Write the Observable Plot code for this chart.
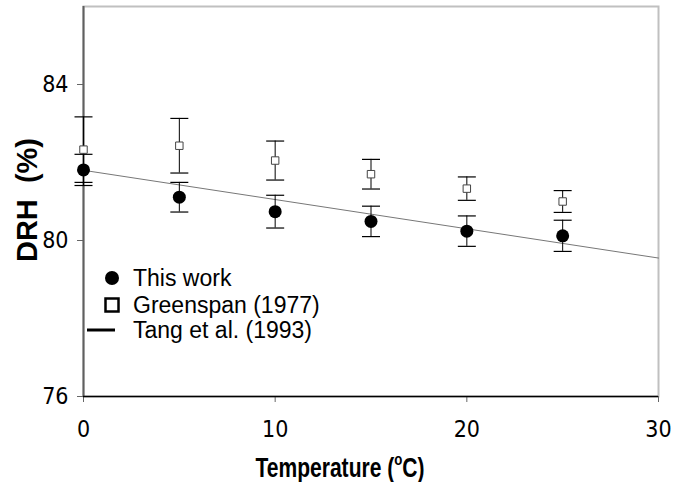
<!DOCTYPE html>
<html>
<head>
<meta charset="utf-8">
<script src="https://cdn.jsdelivr.net/npm/d3@7"></script>
<script src="https://cdn.jsdelivr.net/npm/@observablehq/plot@0.6"></script>
<style>
  html, body { margin: 0; padding: 0; background: white; overflow: hidden; }
  #chart { position: relative; width: 673px; height: 482px; }
</style>
</head>
<body>
<div id="chart"></div>
<script>
// ---- data ----
const temperatures = [0, 5, 10, 15, 20, 25];
const thisWorkDRH = [81.81, 81.11, 80.74, 80.49, 80.24, 80.12];
const thisWorkErr = [0.40, 0.38, 0.42, 0.39, 0.39, 0.40];
const greenspanDRH = [82.33, 82.43, 82.05, 81.70, 81.33, 81.00];
const greenspanErr = [0.84, 0.70, 0.50, 0.38, 0.30, 0.28];
const tangTemps = [0, 30];
const tangDRH = [81.80, 79.55];
const xTicks = [0, 10, 20, 30];
const yTicks = [76, 80, 84];
const legendLabels = ["This work", "Greenspan (1977)", "Tang et al. (1993)"];

const thisWork = temperatures.map((t, i) => ({t, v: thisWorkDRH[i], e: thisWorkErr[i]}));
const greenspan = temperatures.map((t, i) => ({t, v: greenspanDRH[i], e: greenspanErr[i]}));
const tang = tangTemps.map((t, i) => ({t, v: tangDRH[i]}));

const capSymbol = {
  draw(context, size) {
    const w = Math.sqrt(size / Math.PI);
    context.moveTo(-w, 0);
    context.lineTo(w, 0);
  }
};

function errorBars(data) {
  return [
    Plot.ruleX(data, {x: "t", y1: d => d.v - d.e, y2: d => d.v + d.e, stroke: "#000", strokeWidth: 1}),
    Plot.dot(data, {x: "t", y: d => d.v - d.e, symbol: capSymbol, r: 9, stroke: "#000", strokeWidth: 1.2, fill: "none"}),
    Plot.dot(data, {x: "t", y: d => d.v + d.e, symbol: capSymbol, r: 9, stroke: "#000", strokeWidth: 1.2, fill: "none"})
  ];
}

const plot = Plot.plot({
  width: 673,
  height: 482,
  marginLeft: 83,
  marginRight: 15,
  marginTop: 6,
  marginBottom: 86,
  style: {fontFamily: "'Liberation Sans Narrow', 'DejaVu Sans Condensed', 'Liberation Sans', sans-serif", fontSize: "23px", color: "#000", background: "white", overflow: "hidden"},
  x: {domain: [0, 30]},
  y: {domain: [76, 86]},
  marks: [
    Plot.frame({stroke: "#c0c0c0", strokeWidth: 2}),
    Plot.axisX({ticks: xTicks, tickSize: 6, tickPadding: 18, label: null, stroke: "#666", fill: "#000"}),
    Plot.axisY({ticks: yTicks, tickSize: 6, tickPadding: 9, label: null, stroke: "#666", fill: "#000"}),
    Plot.ruleX([0], {stroke: "#606060", strokeWidth: 2}),
    Plot.ruleY([76], {stroke: "#000", strokeWidth: 1.5}),
    Plot.line(tang, {x: "t", y: "v", stroke: "#777", strokeWidth: 1}),
    ...errorBars(greenspan),
    ...errorBars(thisWork),
    Plot.dot(greenspan, {x: "t", y: "v", symbol: "square", r: 4.2, fill: "white", stroke: "#444", strokeWidth: 1}),
    Plot.dot(thisWork, {x: "t", y: "v", r: 6.5, fill: "#000", stroke: "none"})
  ]
});

document.getElementById("chart").appendChild(plot);
const svg = d3.select(plot);
const fontMain = "'Liberation Sans', Arial, sans-serif";

// Y axis title
svg.append("text")
  .attr("transform", "translate(37,200) rotate(-90)")
  .attr("text-anchor", "middle")
  .attr("font-family", fontMain)
  .attr("font-weight", "bold")
  .attr("font-size", 29)
  .attr("fill", "#000")
  .text("DRH\u00a0\u00a0(%)");

// X axis title with superscript (narrow, as in the reference)
const xt = svg.append("text")
  .attr("transform", "translate(340,477) scale(0.78,1)")
  .attr("text-anchor", "middle")
  .attr("font-family", fontMain)
  .attr("font-weight", "bold")
  .attr("font-size", 27)
  .attr("fill", "#000");
xt.append("tspan").text("Temperature (");
xt.append("tspan").attr("font-size", 17).attr("dy", -12).text("o");
xt.append("tspan").attr("dy", 12).text("C)");

// Legend
const lg = svg.append("g")
  .attr("font-family", fontMain)
  .attr("font-size", 23)
  .attr("text-anchor", "start")
  .attr("fill", "#000");
lg.append("circle").attr("cx", 112).attr("cy", 278).attr("r", 7).attr("fill", "#000");
lg.append("rect").attr("x", 105.5).attr("y", 298.5).attr("width", 13).attr("height", 13)
  .attr("fill", "white").attr("stroke", "#000").attr("stroke-width", 2.5);
lg.append("line").attr("x1", 87).attr("x2", 115).attr("y1", 330).attr("y2", 330)
  .attr("stroke", "#000").attr("stroke-width", 3);
const rowsY = [286, 313, 338];
legendLabels.forEach((s, i) => {
  lg.append("text").attr("x", 133).attr("y", rowsY[i]).attr("text-anchor", "start").text(s);
});
</script>
</body>
</html>
